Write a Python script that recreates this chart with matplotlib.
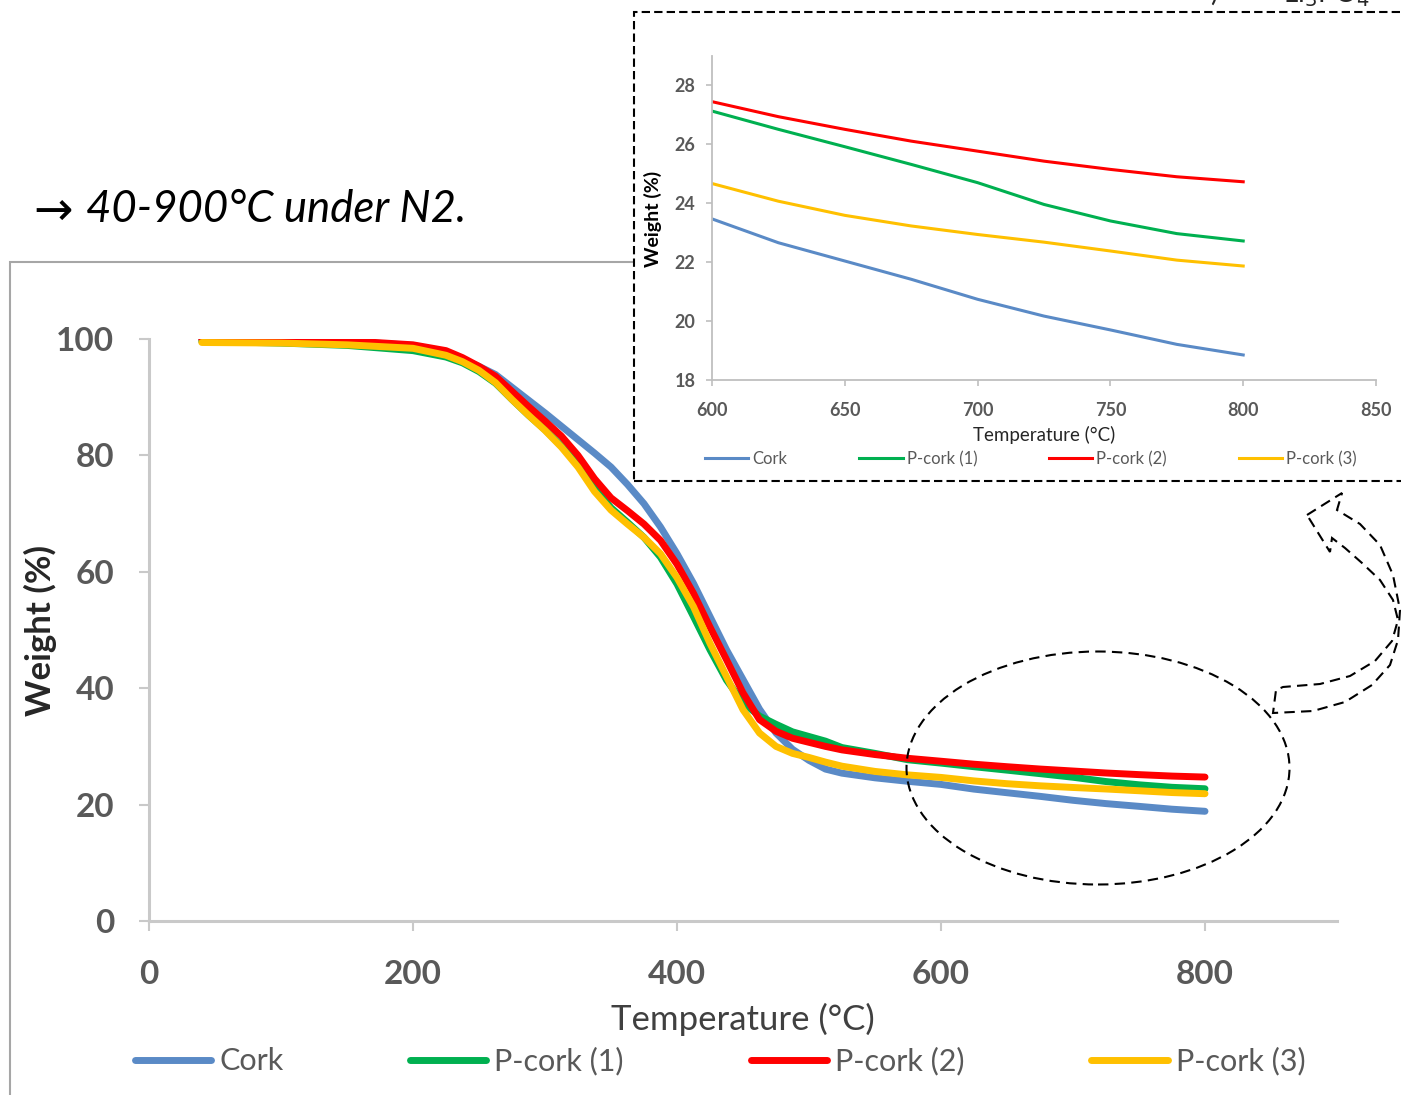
import matplotlib
matplotlib.use("Agg")
import matplotlib.pyplot as plt
from matplotlib.patches import Rectangle, Ellipse, PathPatch
from matplotlib.path import Path
import numpy as np

# TGA data (weight % vs temperature in deg C)
temps = [40, 100, 150, 200, 225, 237.5, 250, 262.5, 275, 287.5, 300, 312.5, 325, 337.5,
         350, 362.5, 375, 387.5, 400, 412.5, 425, 437.5, 450, 462.5, 475, 487.5, 500,
         512.5, 525, 550, 575, 600, 625, 650, 675, 700, 725, 750, 775, 800]
cork = [100.0, 99.9, 99.6, 98.9, 97.6, 96.5, 95.3, 93.9, 91.7, 89.5, 87.3, 85.0, 82.7,
        80.4, 78.0, 75.0, 71.7, 67.7, 63.1, 58.0, 52.3, 46.6, 41.5, 36.4, 32.3, 29.5,
        27.6, 26.1, 25.4, 24.6, 24.0, 23.47, 22.66, 22.04, 21.42, 20.74, 20.17, 19.70,
        19.21, 18.85]
pcork1 = [99.6, 99.3, 98.9, 98.0, 96.9, 95.9, 94.4, 92.4, 89.6, 86.9, 84.4, 81.6, 78.4,
          74.4, 71.0, 68.5, 65.9, 62.5, 57.9, 52.3, 46.6, 41.4, 37.5, 35.2, 33.8, 32.5,
          31.7, 30.9, 29.8, 28.8, 27.7, 27.13, 26.51, 25.92, 25.32, 24.70, 23.96, 23.40,
          22.97, 22.72]
pcork2 = [100.0, 99.9, 99.7, 99.0, 98.0, 96.8, 95.3, 93.6, 91.0, 88.4, 85.9, 83.3, 80.0,
          76.0, 72.7, 70.5, 68.2, 65.4, 61.3, 56.3, 50.5, 44.9, 39.2, 34.6, 32.6, 31.4,
          30.7, 30.0, 29.4, 28.6, 27.95, 27.45, 26.94, 26.51, 26.11, 25.77, 25.43, 25.15,
          24.90, 24.73]
pcork3 = [99.4, 99.3, 99.0, 98.4, 97.2, 96.1, 94.6, 92.5, 89.6, 86.9, 84.3, 81.4, 78.0,
          73.8, 70.6, 68.2, 65.9, 63.1, 59.0, 54.0, 47.7, 42.0, 36.3, 32.3, 30.0, 28.8,
          28.1, 27.3, 26.6, 25.7, 25.1, 24.67, 24.07, 23.59, 23.23, 22.94, 22.68, 22.38,
          22.07, 21.87]

names = ["Cork", "P-cork (1)", "P-cork (2)", "P-cork (3)"]
colors = ["#5A8AC6", "#00B050", "#FF0000", "#FFC000"]
series = [cork, pcork1, pcork2, pcork3]

W, H = 1401, 1095
plt.rcParams['font.family'] = ['Lato', 'DejaVu Sans']

def fx(px):
    return px / W

def fy(py):
    return 1 - py / H

fig = plt.figure(figsize=(W / 100, H / 100), dpi=100)

# grey frame of the main chart
fig.patches.append(Rectangle((fx(10), fy(1110)), fx(1420) - fx(10), fy(262) - fy(1110),
                             transform=fig.transFigure, fill=False, ec="#A6A6A6",
                             lw=1.5, zorder=-1))

# main chart
ax = fig.add_axes([fx(149), fy(921), fx(1337) - fx(149), fy(339) - fy(921)])
ax.set_facecolor("none")
t = np.array(temps)
for vals, c, n in zip(series, colors, names):
    ax.plot(t, vals, color=c, lw=5, label=n, solid_capstyle="round",
            solid_joinstyle="round")
ax.set_xlim(0, 900)
ax.set_ylim(0, 100)
ax.set_xticks([0, 200, 400, 600, 800])
ax.set_yticks([0, 20, 40, 60, 80, 100])
for s in ["top", "right"]:
    ax.spines[s].set_visible(False)
for s in ["left", "bottom"]:
    ax.spines[s].set_color("#C9C9C9")
    ax.spines[s].set_linewidth(2.2)
ax.tick_params(axis="both", colors="#C9C9C9", width=1.5, length=7, labelcolor="#595959",
               labelsize=24)
ax.tick_params(axis="y", pad=18)
ax.tick_params(axis="x", pad=21)
for lab in ax.get_xticklabels() + ax.get_yticklabels():
    lab.set_fontweight("bold")
ax.set_xlabel("Temperature (°C)", fontsize=25, color="#404040", labelpad=10)
fig.text(fx(40), fy(630), "Weight (%)", rotation=90, fontsize=25, fontweight="bold",
         color="#262626", ha="center", va="center")

fig.legend(*ax.get_legend_handles_labels(), loc="center", bbox_to_anchor=(fx(720), fy(1061)),
           ncol=4, frameon=False, fontsize=22, handlelength=2.5, handletextpad=0.26,
           columnspacing=4.15, labelcolor="#595959")

# inset box with dashed border
fig.patches.append(Rectangle((fx(634), fy(481)), fx(1420) - fx(634), fy(12) - fy(481),
                             transform=fig.transFigure, fc="white", ec="black",
                             lw=1.5, ls=(0, (4, 2)), zorder=1))

ins = fig.add_axes([fx(712), fy(380), fx(1376) - fx(712), fy(56) - fy(380)], zorder=2)
ins.set_facecolor("none")
mask = t >= 600
for vals, c, n in zip(series, colors, names):
    ins.plot(t[mask], np.array(vals)[mask], color=c, lw=2.2, label=n,
             solid_joinstyle="round")
ins.set_xlim(600, 850)
ins.set_ylim(18, 29)
ins.set_xticks([600, 650, 700, 750, 800, 850])
ins.set_yticks([18, 20, 22, 24, 26, 28])
for s in ["top", "right"]:
    ins.spines[s].set_visible(False)
for s in ["left", "bottom"]:
    ins.spines[s].set_color("#BFBFBF")
    ins.spines[s].set_linewidth(1.3)
ins.tick_params(axis="both", colors="#BFBFBF", width=1.2, length=4, labelcolor="#595959",
                labelsize=13)
ins.tick_params(axis="y", pad=8)
ins.tick_params(axis="x", pad=12)
for lab in ins.get_xticklabels() + ins.get_yticklabels():
    lab.set_fontweight("bold")
fig.text(fx(1044), fy(435), "Temperature (°C)", fontsize=13.5, color="#262626",
         ha="center", va="center")
fig.text(fx(653), fy(219), "Weight (%)", rotation=90, fontsize=14, fontweight="bold",
         color="black", ha="center", va="center")
fig.legend(*ins.get_legend_handles_labels(), loc="center", bbox_to_anchor=(fx(1031), fy(459)),
           ncol=4, frameon=False, fontsize=12, handlelength=2.6, handletextpad=0.25,
           columnspacing=4.3, labelcolor="#595959")

# dashed ellipse around the 600-800 region
fig.patches.append(Ellipse((fx(1098), fy(768)), fx(383), 233 / H, transform=fig.transFigure,
                           fill=False, ec="black", lw=1.5, ls=(0, (5, 3)), zorder=3))

# curved hollow arrow pointing to the inset
arrow_px = [(1307, 515), (1342, 493), (1337, 510), (1360, 524), (1380, 545), (1393, 575),
            (1400, 610), (1398, 640), (1390, 665), (1372, 685), (1345, 702), (1313, 711),
            (1273, 713), (1276, 690), (1283, 687), (1320, 684), (1350, 676), (1375, 661),
            (1392, 641), (1398, 620), (1393, 600), (1380, 580), (1362, 563), (1345, 548),
            (1332, 538), (1330, 552), (1307, 515)]
verts = [(fx(x), fy(y)) for x, y in arrow_px]
fig.patches.append(PathPatch(Path(verts), transform=fig.transFigure, fill=False, ec="black",
                             lw=1.5, ls=(0, (5, 3)), zorder=3))

# note text and clipped caption at the top
fig.text(fx(33), fy(212), "→", fontsize=34, ha="left", va="center", family=["DejaVu Sans"])
fig.text(fx(86), fy(210), "40-900°C under N2.", fontsize=31.5, style="italic",
         ha="left", va="center")
fig.text(fx(1210), fy(-8), ")", fontsize=20, color="#262626", ha="left", va="center")
fig.text(fx(1283), fy(-6), "Li$_3$PO$_4$", fontsize=20, color="#262626", ha="left", va="center")

fig.savefig("out.png", dpi=100, facecolor="white")
